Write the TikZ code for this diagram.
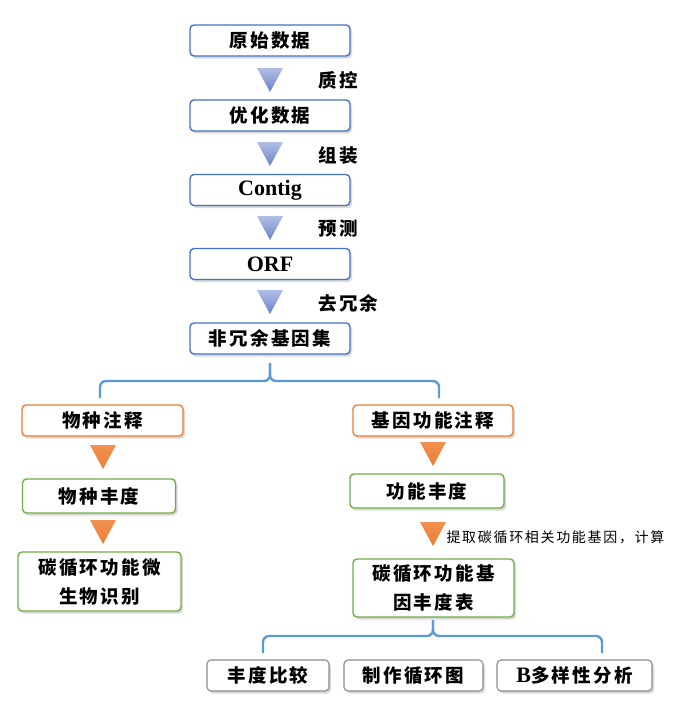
\documentclass[tikz,border=0pt]{standalone}
\usepackage{fontspec}
\setmainfont{Liberation Serif}
\newfontfamily\cjk[LetterSpace=12]{Noto Sans CJK SC}
\usetikzlibrary{shadows}
\definecolor{azulborde}{HTML}{4472C4}
\definecolor{azulllave}{HTML}{5B9BD5}
\definecolor{naranja}{HTML}{ED7D31}
\definecolor{naranjaclaro}{HTML}{F29150}
\definecolor{verde}{HTML}{70AD47}
\definecolor{gris}{HTML}{8C8C8C}
\definecolor{azultriA}{HTML}{B0BEE6}
\definecolor{azultriB}{HTML}{6B83C6}
\tikzset{
  caja/.style={draw,rounded corners=4pt,line width=1.4pt,fill=white,
    minimum height=31pt,align=center,
    font=\cjk\bfseries\fontsize{18.5}{29}\selectfont,
    drop shadow={opacity=0.3,shadow xshift=2pt,shadow yshift=-2.5pt}},
  cajaazul/.style={caja,draw=azulborde,minimum width=160pt},
  cajanaranja/.style={caja,draw=naranja,minimum width=161pt},
  cajaverde/.style={caja,draw=verde,minimum width=153pt,minimum height=34pt},
  cajagris/.style={caja,draw=gris,line width=1.1pt},
  paso/.style={anchor=west,font=\cjk\bfseries\fontsize{18.5}{20}\selectfont},
  llave/.style={draw=azulllave,line width=2.4pt,rounded corners=6pt}
}
% flecha en triangulo: #1 x, #2 y (centro)
\newcommand{\FlechaAzul}[2]{%
  \shade[top color=azultriA,bottom color=azultriB]
    ({#1-13},{#2-12}) -- ({#1+13},{#2-12}) -- (#1,{#2+12}) -- cycle;
}
\newcommand{\FlechaNaranja}[2]{%
  \shade[top color=naranjaclaro,bottom color=naranja]
    ({#1-13},{#2-12}) -- ({#1+13},{#2-12}) -- (#1,{#2+12}) -- cycle;
}
% llave: #1 x punta, #2 y punta, #3 y barra, #4 x izq, #5 x der, #6 y extremos
\newcommand{\Llave}[6]{%
  \draw[llave] (#4,#6) -- (#4,#3) -- (#1,#3) -- (#1,#2);
  \draw[llave] (#5,#6) -- (#5,#3) -- (#1,#3) -- (#1,#2);
}

\begin{document}
\begin{tikzpicture}[x=1pt,y=-1pt]
  \useasboundingbox (0,0) rectangle (692,718);

  % columna central
  \node[cajaazul] (crudos) at (270,40.5) {原始数据};
  \FlechaAzul{270}{80}
  \node[paso] (qc) at (315,80) {质控};
  \node[cajaazul] (optim) at (270,115.5) {优化数据};
  \FlechaAzul{270}{154}
  \node[paso] (ensam) at (315,155) {组装};
  \node[cajaazul,font=\bfseries\fontsize{22}{24}\selectfont] (contig) at (270,190) {Contig};
  \FlechaAzul{270}{228}
  \node[paso] (pred) at (315,229) {预测};
  \node[cajaazul,font=\bfseries\fontsize{22}{24}\selectfont] (orf) at (270,264) {ORF};
  \FlechaAzul{270}{302}
  \node[paso] (redun) at (315,303) {去冗余};
  \node[cajaazul] (genes) at (270,338.5) {非冗余基因集};

  \Llave{270}{363}{381}{100}{439}{398}

  % rama izquierda
  \node[cajanaranja] (especie) at (102.5,420.5) {物种注释};
  \FlechaNaranja{103}{457}
  \node[cajaverde] (abesp) at (99,496) {物种丰度};
  \FlechaNaranja{103}{532}
  \node[cajaverde,minimum width=163pt,minimum height=59pt] (micro) at (99.5,581.5)
    {碳循环功能微\\生物识别};

  % rama derecha
  \node[cajanaranja,minimum width=160pt] (funcion) at (433,420.5) {基因功能注释};
  \FlechaNaranja{433}{454}
  \node[cajaverde,minimum width=154pt] (abfun) at (427,491) {功能丰度};
  \FlechaNaranja{433}{534}
  \node[paso,font=\cjk\fontsize{14}{16}\selectfont] (extraer) at (443,537)
    {提取碳循环相关功能基因，计算};
  \node[cajaverde,minimum width=161pt,minimum height=58pt] (tabla) at (433.5,588)
    {碳循环功能基\\因丰度表};

  \Llave{433}{620}{636}{263}{602}{653}

  % cajas finales
  \node[cajagris,minimum width=122pt] (comp) at (268,675.5) {丰度比较};
  \node[cajagris,minimum width=139pt] (mapa) at (413.5,675.5) {制作循环图};
  \node[cajagris,minimum width=155pt] (beta) at (574.5,675.5)
    {{\rmfamily\bfseries\fontsize{22}{24}\selectfont B}多样性分析};
\end{tikzpicture}
\end{document}
